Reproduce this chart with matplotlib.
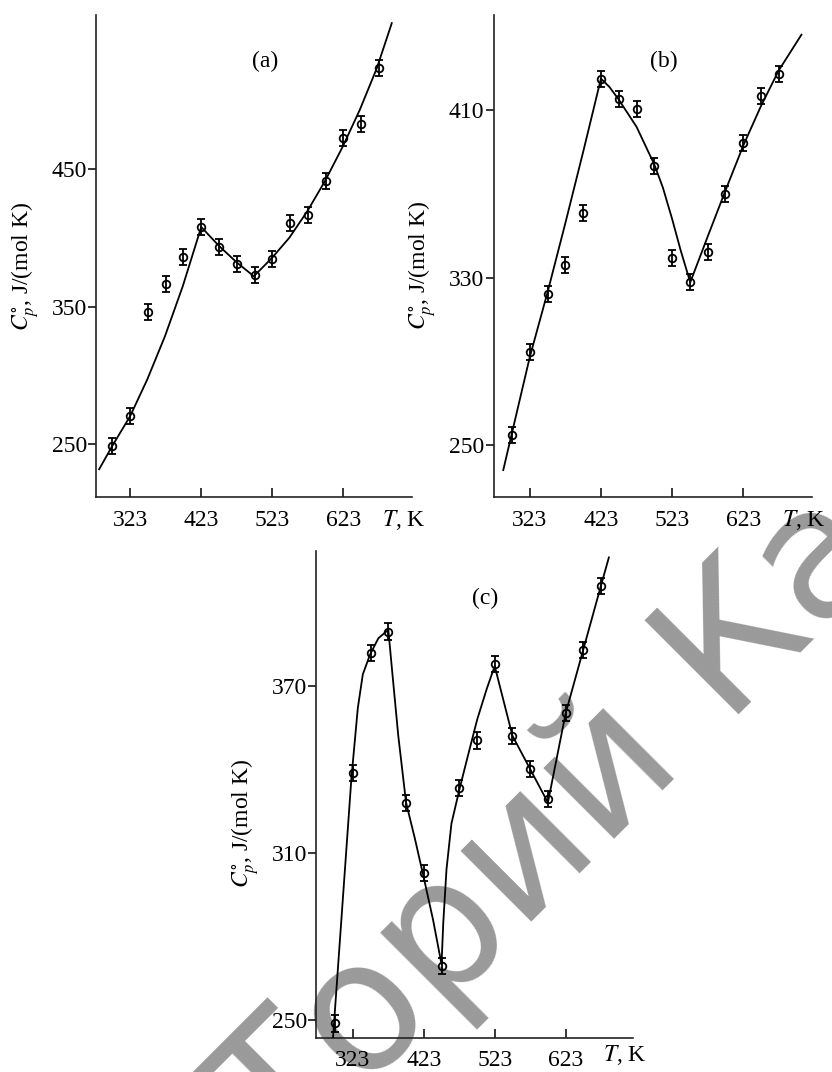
import numpy as np
import matplotlib
matplotlib.use('Agg')
import matplotlib.pyplot as plt

plt.rcParams['font.family'] = ['Liberation Serif', 'DejaVu Serif']
plt.rcParams['mathtext.fontset'] = 'stix'

# measured points (T in K, Cp in J/(mol K))
t_pts = [298, 323, 348, 373, 398, 423, 448, 473, 498, 523, 548, 573, 598, 623, 648, 673]
cp_a = [248.8, 270.5, 345.9, 366.4, 386.0, 407.7, 393.2, 380.9, 372.9, 384.8,
        410.4, 416.7, 441.3, 472.0, 482.4, 523.4]
cp_b = [254.8, 294.6, 322.1, 336.0, 360.7, 424.7, 415.1, 410.3, 383.3, 339.2,
        327.7, 342.0, 369.9, 394.1, 416.9, 427.2]
cp_c = [248.7, 338.6, 381.7, 389.4, 327.8, 302.7, 269.4, 333.2, 350.3, 377.6,
        352.0, 340.2, 329.4, 360.2, 382.7, 405.8]

# fitted curves
t_fit_a = [279.4, 298, 323, 347, 372, 397, 423, 448, 473, 497, 522, 547, 572, 597, 622, 646, 670, 691]
cp_fit_a = [232, 249, 270.5, 297, 328.5, 364.7, 407.7, 394, 382, 372, 385, 400, 419, 441, 466, 492.7, 523, 555.6]

t_fit_b = [285.7, 323, 348, 373, 398, 423, 435, 448, 473, 498, 510, 523, 535, 548.5,
           573.5, 598.5, 623, 648, 673, 704.8]
cp_fit_b = [238, 292, 323, 356, 390, 425, 421, 415, 402, 384, 373, 358, 343, 327.7,
            350, 372, 393, 412, 429, 446]

t_fit_c = [295, 321, 330, 337, 347, 359, 373, 377.5, 387, 398, 410.5, 423, 436, 448,
           450.5, 455, 462, 473.5, 485, 498.5, 512, 523, 548, 573, 598, 623, 648, 673, 684]
cp_fit_c = [243.7, 337, 362, 374, 381, 387, 390, 377.6, 352, 328, 315, 301, 286, 270,
            285, 304, 320.5, 333, 344.6, 358, 369, 377, 352, 340, 328, 360, 383, 406, 416]

x_ticks = [323, 423, 523, 623]

W, H = 832, 1072
fig = plt.figure(figsize=(W / 100, H / 100), dpi=100)

def px_axes(l, r, t, b):
    return fig.add_axes([l / W, 1 - b / H, (r - l) / W, (b - t) / H])

ax_a = px_axes(96, 411.7, 15, 497.5)
ax_b = px_axes(493.5, 812, 15, 497.3)
ax_c = px_axes(316, 633, 551, 1037.7)

panels = [
    (ax_a, cp_a, t_fit_a, cp_fit_a, 5.8, (275, 719), (211.5, 561.5), [250, 350, 450], '(a)', 0.48, -0.047),
    (ax_b, cp_b, t_fit_b, cp_fit_b, 3.8, (272, 719.6), (225, 455.4), [250, 330, 410], '(b)', 0.48, -0.047),
    (ax_c, cp_c, t_fit_c, cp_fit_c, 2.9, (271, 718), (243.6, 418.3), [250, 310, 370], '(c)', 0.44, -0.036),
]

for ax, cp, tf, cpf, err, xl, yl, yt, tag, ylab_y, tk_y in panels:
    ax.patch.set_alpha(0)
    ax.plot(tf, cpf, color='black', lw=1.3, zorder=3)
    ax.errorbar(t_pts, cp, yerr=err, fmt='o', ms=5.5, mfc='none', mec='black', mew=1.3,
                ecolor='black', elinewidth=1.3, capsize=2.8, capthick=1.3, zorder=4)
    ax.set_xlim(*xl)
    ax.set_ylim(*yl)
    ax.set_xticks(x_ticks)
    ax.set_yticks(yt)
    for s in ['top', 'right']:
        ax.spines[s].set_visible(False)
    for s in ['left', 'bottom']:
        ax.spines[s].set_linewidth(1.2)
        ax.spines[s].set_color('#222222')
    ax.tick_params(axis='x', direction='in', length=6.5, width=1.1, pad=9, labelsize=17)
    ax.tick_params(axis='y', direction='out', length=5.5, width=1.1, pad=1, labelsize=17)
    ax.set_ylabel(r'$C_p^{\circ}$, J/(mol K)', fontsize=17)
    ax.yaxis.set_label_coords(-0.17, ylab_y)
    ax.text(0.905, tk_y, r'$T$, K', transform=ax.transAxes, fontsize=17, ha='left', va='center')
    ax.text(0.535, 0.903, tag, transform=ax.transAxes, fontsize=17, ha='center', va='center')

# grey watermark running across the lower part
fig.text(284 / W, 1 - 1170 / H, 'Торий Ка', family='DejaVu Sans',
         fontsize=130, color='#9a9a9a', rotation=45, rotation_mode='anchor',
         ha='left', va='baseline', zorder=-1)

fig.savefig('out.png', dpi=100)
